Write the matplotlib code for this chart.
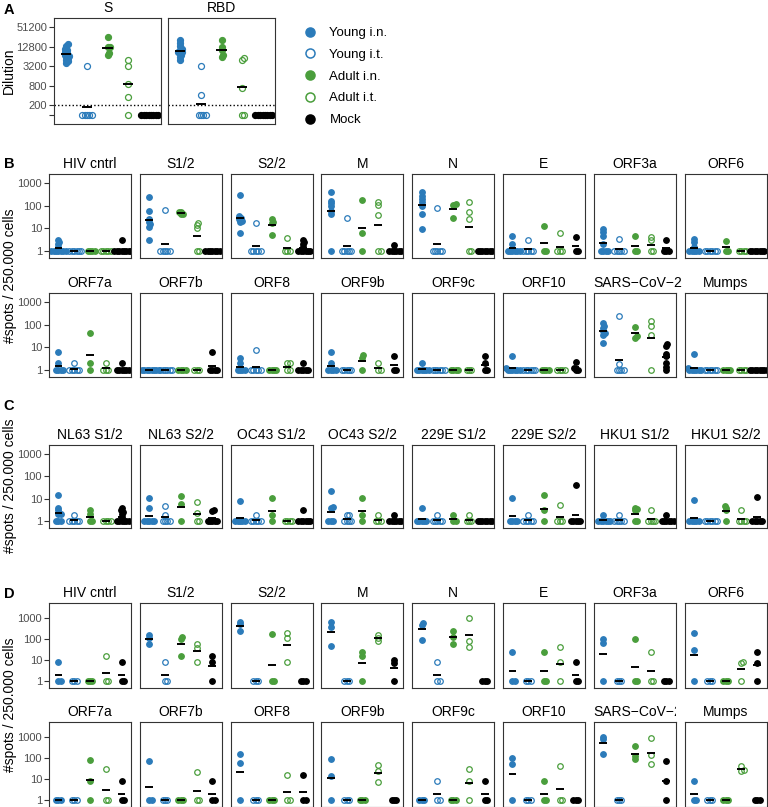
import numpy as np
import matplotlib
matplotlib.use('Agg')
import matplotlib.pyplot as plt
from matplotlib.lines import Line2D
from matplotlib.ticker import NullLocator
from matplotlib.transforms import Bbox, TransformedBbox

plt.rcParams['font.family'] = ['Liberation Sans', 'DejaVu Sans']

# ---------------- data ----------------
GROUPS = ['Young i.n.', 'Young i.t.', 'Adult i.n.', 'Adult i.t.', 'Mock']
COLORS = ['#2B7BBA', '#2B7BBA', '#4A9E3C', '#4A9E3C', '#000000']
FILLED = [True, False, True, False, True]

# Panel A (dilution titers; 100 = below detection)
A_S = [[15000, 13000, 11000, 10000, 9000, 8000, 7000, 6500, 6000, 5500, 5000, 4500, 4000],
       [3200, 100, 100, 100, 100, 100],
       [25600, 12800, 12800, 8000, 7000],
       [5000, 3200, 900, 360, 100],
       [100] * 8]
A_RBD = [[20000, 16000, 13000, 11000, 10000, 9000, 8500, 8000, 7000, 6000, 5000],
         [3200, 400, 100, 100, 100, 100],
         [20000, 12800, 10000, 7000, 6000],
         [5500, 5000, 700, 100, 100],
         [100] * 8]
A_TICKS = [100, 200, 800, 3200, 12800, 51200]
A_TICKLABELS = ['', '200', '800', '3200', '12800', '51200']
A_DETECTION = 200

# Panel B
B_HIV = [[3, 2.5, 2, 1.5, 1, 1, 1, 1, 1, 1, 1], [1] * 6, [1] * 4, [1] * 5, [3, 1, 1, 1, 1, 1, 1, 1, 1]]
B_S1 = [[230, 60, 26, 20, 15, 12, 3], [65, 1, 1, 1, 1, 1], [55, 50, 45, 42], [17, 14, 10, 1, 1], [1] * 7]
B_S2 = [[295, 35, 30, 25, 22, 20, 6], [17, 1, 1, 1, 1, 1], [25, 20, 17, 5], [3.8, 1, 1, 1], [3, 2.5, 2, 1.5, 1, 1, 1, 1, 1, 1]]
B_M = [[385, 165, 130, 100, 60, 45, 1], [28, 1, 1, 1, 1, 1], [175, 6.4, 1], [140, 107, 39, 1, 1], [1.9, 1, 1, 1, 1, 1, 1]]
B_N = [[385, 275, 195, 150, 100, 43, 9.5], [76, 1, 1, 1, 1, 1], [115, 110, 29], [150, 51, 26, 1, 1], [1] * 7]
B_E = [[4.8, 2, 1, 1, 1, 1, 1, 1], [3.1, 1, 1, 1, 1, 1], [13, 1, 1], [6, 1, 1, 1], [4, 1, 1]]
B_ORF3a = [[9.5, 6.8, 4.8, 2.1, 1, 1, 1, 1], [3.5, 1, 1, 1, 1, 1], [4.8, 1, 1], [4.1, 3.1, 1, 1], [3.2, 1, 1, 1]]
B_ORF6 = [[3.5, 2.5, 1.5, 1, 1, 1, 1, 1], [1] * 6, [2.9, 1, 1], [1] * 4, [1] * 7]
B_ORF7a = [[6, 2, 1, 1, 1, 1], [2, 1, 1, 1, 1, 1], [42, 2, 1], [2, 1, 1, 1], [2, 1, 1, 1, 1, 1, 1]]
B_ORF7b = [[1] * 8, [1] * 6, [1] * 4, [1] * 3, [6.2, 1, 1, 1, 1]]
B_ORF8 = [[3.4, 2, 1, 1, 1, 1], [7.8, 1, 1, 1, 1, 1], [1] * 4, [2, 2, 1, 1], [2, 1, 1, 1, 1, 1]]
B_ORF9b = [[6.2, 2, 1, 1, 1, 1], [1] * 5, [4.4, 3.5, 1], [2, 1, 1], [4, 1, 1]]
B_ORF9c = [[2, 1, 1, 1, 1, 1, 1], [1] * 6, [1] * 4, [1] * 3, [4, 2, 1, 1]]
B_ORF10 = [[4.2, 1.2, 1, 1, 1, 1, 1, 1], [1] * 6, [1] * 4, [1] * 4, [2.3, 1.2, 1, 1]]
B_SARS = [[120, 88, 70, 53, 42, 36, 16], [237, 1.9, 1, 1, 1, 1], [82, 32, 27], [144, 88, 36, 1], [14, 11, 5.2, 4, 2, 1.4, 1]]
B_Mumps = [[5.2, 1.2, 1, 1, 1, 1, 1, 1], [1] * 6, [1] * 4, [1] * 4, [1] * 8]

# Panel C
C_NL63_S1 = [[15, 4, 3, 2, 2, 1, 1, 1], [1.9, 1, 1, 1, 1, 1], [3, 2, 1, 1], [1] * 4, [4, 3, 2.5, 2, 1.5, 1, 1, 1, 1, 1, 1]]
C_NL63_S2 = [[11, 4, 1, 1, 1, 1, 1], [4.8, 1.9, 1, 1, 1, 1], [13, 5.7, 1], [7.4, 2.2, 1, 1], [3.2, 2.7, 1, 1, 1, 1, 1]]
C_OC43_S1 = [[8, 1, 1, 1, 1, 1], [1.9, 1, 1, 1, 1, 1], [11, 1.9, 1], [1] * 4, [3, 1, 1, 1, 1, 1, 1]]
C_OC43_S2 = [[22, 4.2, 3.8, 1, 1, 1], [1.9, 1.9, 1, 1, 1, 1], [11, 1.9, 1], [1.9, 1, 1, 1], [1.9, 1, 1, 1, 1, 1, 1]]
C_229E_S1 = [[3.8, 1, 1, 1, 1, 1], [1.9, 1, 1, 1, 1, 1], [1.9, 1, 1], [1.9, 1, 1, 1], [1] * 7]
C_229E_S2 = [[11, 1, 1, 1, 1], [1.9, 1, 1, 1, 1, 1], [14, 3, 1], [5, 1, 1, 1], [39, 1, 1, 1, 1, 1]]
C_HKU1_S1 = [[1.9, 1, 1, 1, 1, 1, 1], [1.9, 1, 1, 1, 1, 1], [4, 3.5, 3, 1, 1], [3, 1, 1, 1, 1], [1.9, 1, 1, 1, 1, 1, 1]]
C_HKU1_S2 = [[8.8, 1, 1, 1, 1, 1], [1] * 6, [4.5, 3.8, 3, 1], [3, 1, 1, 1, 1], [12, 1, 1, 1, 1, 1]]

# Panel D
D_HIV = [[8, 1, 1], [1, 1, 1], [1, 1, 1], [15, 1, 1], [8, 1, 1]]
D_S1 = [[150, 110, 60], [8, 1, 1], [125, 98, 15], [60, 35, 8], [15, 8, 1]]
D_S2 = [[650, 500, 240], [1, 1, 1], [170, 1, 1], [180, 105, 8], [1, 1, 1]]
D_M = [[600, 350, 47], [1, 1, 1], [25, 15, 1], [150, 105, 80], [10, 7.5, 1]]
D_N = [[550, 450, 88], [7.7, 1, 1], [230, 125, 60], [1000, 80, 42], [1, 1, 1]]
D_E = [[25, 1, 1], [1, 1, 1], [25, 1, 1], [39, 7.7, 1], [7.7, 1, 1]]
D_ORF3a = [[95, 65, 1], [1, 1, 1], [95, 1, 1], [25, 1, 1], [1, 1, 1]]
D_ORF6 = [[195, 29, 1], [1, 1, 1], [1, 1, 1], [8.2, 6.9, 1], [25, 7.4, 1]]
D_ORF7a = [[1, 1, 1], [1, 1, 1], [82, 7.8, 1], [30, 1, 1], [7.8, 1, 1]]
D_ORF7b = [[68, 1, 1], [1, 1, 1], [1, 1, 1], [22, 1, 1], [7.8, 1, 1]]
D_ORF8 = [[160, 57, 1], [1, 1, 1], [1, 1, 1], [15.6, 1, 1], [15.6, 1, 1]]
D_ORF9b = [[85, 14.6, 1], [1, 1, 1], [1, 1, 1], [47, 23, 7.5], [1, 1, 1]]
D_ORF9c = [[1, 1, 1], [7.8, 1, 1], [1, 1, 1], [30, 7.8, 1], [7.8, 1, 1]]
D_ORF10 = [[98, 49, 1], [1, 1, 1], [7.8, 1, 1], [39, 1, 1], [1, 1, 1]]
D_SARS = [[1000, 750, 160], [1, 1, 1], [360, 120, 90], [900, 130, 49], [68, 7.8, 1]]
D_Mumps = [[7.8, 1, 1], [1, 1, 1], [1, 1, 1], [39, 28, 25], [1, 1, 1]]

SPOT_TICKS = [1, 10, 100, 1000]
SPOT_TICKLABELS = ['1', '10', '100', '1000']
SARS = 'SARS\u2212CoV\u22122'

ROW_B1 = [('HIV cntrl', B_HIV), ('S1/2', B_S1), ('S2/2', B_S2), ('M', B_M),
          ('N', B_N), ('E', B_E), ('ORF3a', B_ORF3a), ('ORF6', B_ORF6)]
ROW_B2 = [('ORF7a', B_ORF7a), ('ORF7b', B_ORF7b), ('ORF8', B_ORF8), ('ORF9b', B_ORF9b),
          ('ORF9c', B_ORF9c), ('ORF10', B_ORF10), (SARS, B_SARS), ('Mumps', B_Mumps)]
ROW_C = [('NL63 S1/2', C_NL63_S1), ('NL63 S2/2', C_NL63_S2), ('OC43 S1/2', C_OC43_S1), ('OC43 S2/2', C_OC43_S2),
         ('229E S1/2', C_229E_S1), ('229E S2/2', C_229E_S2), ('HKU1 S1/2', C_HKU1_S1), ('HKU1 S2/2', C_HKU1_S2)]
ROW_D1 = [('HIV cntrl', D_HIV), ('S1/2', D_S1), ('S2/2', D_S2), ('M', D_M),
          ('N', D_N), ('E', D_E), ('ORF3a', D_ORF3a), ('ORF6', D_ORF6)]
ROW_D2 = [('ORF7a', D_ORF7a), ('ORF7b', D_ORF7b), ('ORF8', D_ORF8), ('ORF9b', D_ORF9b),
          ('ORF9c', D_ORF9c), ('ORF10', D_ORF10), (SARS, D_SARS), ('Mumps', D_Mumps)]

# ---------------- layout ----------------
W, H = 768, 807
fig = plt.figure(figsize=(W / 100, H / 100), dpi=100)

SPINE = '#333333'
TICKC = '#4D4D4D'


def add_ax(l, t, w, h):
    return fig.add_axes([l / W, 1 - (t + h) / H, w / W, h / H])


def swarm_x(ax, x0, vals, d=2.4):
    pts = ax.transData.transform(np.column_stack([np.full(len(vals), float(x0)), vals]))
    order = np.argsort(pts[:, 1], kind='stable')
    placed = []
    offs = np.zeros(len(vals))
    for i in order:
        y = pts[i, 1]
        cands = [0.0]
        for px, py in placed:
            dy = abs(py - y)
            if dy < d:
                dx = np.sqrt(d * d - dy * dy)
                cands += [px + dx, px - dx]
        cands = sorted(set(cands), key=lambda c: (abs(c), -c))
        for c in cands:
            if all((c - px) ** 2 + (y - py) ** 2 >= d * d - 1e-6 for px, py in placed):
                offs[i] = c
                placed.append((c, y))
                break
    disp = np.column_stack([pts[:, 0] + offs, pts[:, 1]])
    return ax.transData.inverted().transform(disp)[:, 0]


def draw_groups(ax, data, ms=4.0, d=2.4):
    for gi, vals in enumerate(data):
        x0 = gi + 1
        vals = np.asarray(vals, dtype=float)
        xs = swarm_x(ax, x0, vals, d)
        c = COLORS[gi]
        ax.plot(xs, vals, 'o', ls='', ms=ms, mec=c, mfc=c if FILLED[gi] else 'none',
                mew=0.9, zorder=2)
        gm = 10 ** np.mean(np.log10(vals))
        ax.hlines(gm, x0 - 0.25, x0 + 0.25, color='black', lw=1.4, zorder=3)


def style(ax, first, ticks, labels):
    for s in ax.spines.values():
        s.set_color(SPINE)
        s.set_linewidth(0.8)
    ax.tick_params(axis='x', bottom=False, labelbottom=False)
    ax.set_yticks(ticks)
    ax.set_yticklabels(labels)
    ax.yaxis.set_minor_locator(NullLocator())
    if first:
        ax.tick_params(axis='y', length=3.5, width=0.8, color=SPINE, labelcolor=TICKC,
                       labelsize=8, pad=1.5)
    else:
        ax.tick_params(axis='y', left=False, labelleft=False)


def title(ax, text, clip_right):
    if text == SARS:
        t = ax.set_title(text, fontsize=10, pad=4.5, loc='left')
        if clip_right:
            clip = TransformedBbox(Bbox([[-0.05, 1], [1, 1.6]]), ax.transAxes)
            t.set_clip_box(clip)
            t.set_clip_on(True)
    else:
        ax.set_title(text, fontsize=10, pad=4.5)


LEFTS = [49 + 90.8 * i for i in range(8)]


def spot_row(row, top, h, ylim, clip_right=False):
    for i, (name, data) in enumerate(row):
        ax = add_ax(LEFTS[i], top, 82, h)
        ax.set_yscale('log')
        ax.set_xlim(0.4, 5.6)
        ax.set_ylim(*ylim)
        style(ax, i == 0, SPOT_TICKS, SPOT_TICKLABELS)
        title(ax, name, clip_right)
        draw_groups(ax, data)


# Panel A
for j, (name, data) in enumerate([('S', A_S), ('RBD', A_RBD)]):
    ax = add_ax([54, 168][j], 18, 107, 106)
    ax.set_yscale('log', base=2)
    ax.set_xlim(0.4, 5.6)
    ax.set_ylim(53, 97000)
    style(ax, j == 0, A_TICKS, A_TICKLABELS)
    ax.set_title(name, fontsize=10, pad=4)
    ax.axhline(A_DETECTION, color='black', lw=1.0, ls=(0, (1, 1.6)), zorder=1)
    draw_groups(ax, data, ms=4.3, d=2.4)

handles = [Line2D([], [], marker='o', ls='', ms=6.5, mew=1.1, mec=c, mfc=c if f else 'none')
           for c, f in zip(COLORS, FILLED)]
fig.legend(handles, GROUPS, loc='upper left', bbox_to_anchor=(303 / W, 1 - 27 / H),
           frameon=False, fontsize=9.5, labelspacing=0.72, handletextpad=1.0,
           handlelength=1.0, borderpad=0, borderaxespad=0)

spot_row(ROW_B1, 174, 84, (0.49, 2500))
spot_row(ROW_B2, 293, 84, (0.49, 2500))
spot_row(ROW_C, 445, 83, (0.49, 2500))
spot_row(ROW_D1, 603, 85, (0.47, 5000))
spot_row(ROW_D2, 722, 85, (0.47, 5000), clip_right=True)

# axis labels and panel letters
fig.text(9 / W, 1 - 71 / H, 'Dilution', rotation=90, ha='center', va='center', fontsize=10)
for yc in (276, 486, 705):
    fig.text(10 / W, 1 - yc / H, '#spots / 250.000 cells', rotation=90, ha='center',
             va='center', fontsize=10)
for letter, yc in (('A', 10), ('B', 164), ('C', 406), ('D', 594)):
    fig.text(9 / W, 1 - yc / H, letter, ha='center', va='center', fontsize=10.5,
             fontweight='bold')

fig.savefig('out.png', dpi=100)
